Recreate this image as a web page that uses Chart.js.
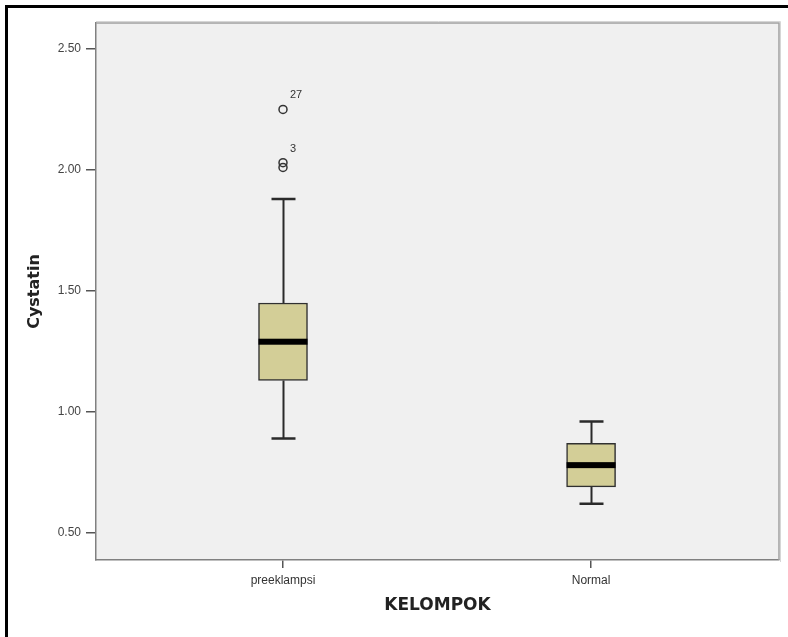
<!DOCTYPE html>
<html>
<head>
<meta charset="utf-8">
<title>Cystatin per kelompok</title>
<script src="https://cdn.jsdelivr.net/npm/chart.js@4/dist/chart.umd.min.js"></script>
<style>
  html, body { margin: 0; padding: 0; background: #ffffff; }
  #wrap { width: 788px; height: 637px; position: relative; }
</style>
</head>
<body>
<div id="wrap"><canvas id="c" width="788" height="637"></canvas></div>
<script>
// Group labels on the x axis
const groups = ['preeklampsi', 'Normal'];

// Five-number summaries per group
const whiskerLow  = [0.89, 0.62];
const q1          = [1.13, 0.69];
const median      = [1.29, 0.78];
const q3          = [1.45, 0.87];
const whiskerHigh = [1.88, 0.96];

// Outliers: group position (1-based), value and case id
const outlierGroup  = [1, 1, 1];
const outlierValues = [2.25, 2.03, 2.01];
const outlierIds    = ['27', '3', ''];

// Y axis tick values
const yTicks = [0.50, 1.00, 1.50, 2.00, 2.50];

const boxData = groups.map((g, i) => ({ x: i + 1, y: [q1[i], q3[i]] }));
const outlierData = outlierValues.map((v, i) => ({ x: outlierGroup[i], y: v, id: outlierIds[i] }));

// Page frame, plot background and plot border
const framePlugin = {
  id: 'frame',
  beforeDraw(chart) {
    const { ctx, chartArea: a } = chart;
    ctx.save();
    ctx.fillStyle = '#ffffff';
    ctx.fillRect(0, 0, chart.width, chart.height);
    ctx.fillStyle = '#000000';
    ctx.fillRect(5, 5, chart.width - 5, 3);
    ctx.fillRect(5, 5, 3, chart.height - 5);
    ctx.fillStyle = '#f0f0f0';
    ctx.fillRect(a.left, a.top, a.right - a.left, a.bottom - a.top);
    ctx.restore();
  },
  afterDraw(chart) {
    const { ctx, chartArea: a } = chart;
    ctx.save();
    // soft top and right edges
    ctx.strokeStyle = '#d6d6d6';
    ctx.lineWidth = 1;
    ctx.beginPath();
    ctx.moveTo(a.left, a.top - 1.5); ctx.lineTo(a.right + 1.5, a.top - 1.5);
    ctx.lineTo(a.right + 1.5, a.bottom + 2);
    ctx.stroke();
    ctx.strokeStyle = '#a0a0a0';
    ctx.lineWidth = 1.5;
    ctx.beginPath();
    ctx.moveTo(a.left, a.top); ctx.lineTo(a.right, a.top);
    ctx.lineTo(a.right, a.bottom);
    ctx.stroke();
    ctx.restore();
  }
};

// Whiskers, caps, medians and outlier ids, placed through the chart scales
const boxPlugin = {
  id: 'boxParts',
  beforeDatasetsDraw(chart) {
    const { ctx, scales: { x, y } } = chart;
    ctx.save();
    ctx.strokeStyle = '#2a2a2a';
    groups.forEach((g, i) => {
      const cx = Math.round(x.getPixelForValue(i + 1)) + 0.5;
      const capHalf = 12;
      const yLo = y.getPixelForValue(whiskerLow[i]);
      const yQ1 = y.getPixelForValue(q1[i]);
      const yQ3 = y.getPixelForValue(q3[i]);
      const yHi = y.getPixelForValue(whiskerHigh[i]);
      ctx.lineWidth = 2;
      ctx.beginPath();
      ctx.moveTo(cx, yQ1); ctx.lineTo(cx, yLo);
      ctx.moveTo(cx, yQ3); ctx.lineTo(cx, yHi);
      ctx.stroke();
      ctx.lineWidth = 2.5;
      ctx.beginPath();
      ctx.moveTo(cx - capHalf, yLo); ctx.lineTo(cx + capHalf, yLo);
      ctx.moveTo(cx - capHalf, yHi); ctx.lineTo(cx + capHalf, yHi);
      ctx.stroke();
    });
    ctx.restore();
  },
  afterDatasetsDraw(chart) {
    const { ctx, scales: { x, y } } = chart;
    const boxMeta = chart.getDatasetMeta(0);
    ctx.save();
    ctx.fillStyle = '#000000';
    groups.forEach((g, i) => {
      const bar = boxMeta.data[i];
      const half = bar.width / 2;
      const ym = y.getPixelForValue(median[i]);
      ctx.fillRect(bar.x - half, ym - 3, half * 2, 6);
    });
    ctx.fillStyle = '#333333';
    ctx.font = '11px "Liberation Sans", Arial, sans-serif';
    ctx.textAlign = 'left';
    ctx.textBaseline = 'middle';
    outlierData.forEach(p => {
      if (!p.id) return;
      ctx.fillText(p.id, x.getPixelForValue(p.x) + 7, y.getPixelForValue(p.y) - 14);
    });
    ctx.restore();
  }
};

new Chart(document.getElementById('c'), {
  type: 'bar',
  data: {
    datasets: [
      {
        type: 'bar',
        data: boxData,
        backgroundColor: '#d3ce97',
        borderColor: '#303030',
        borderWidth: 1.5,
        borderSkipped: false,
        barThickness: 49,
        grouped: false
      },
      {
        type: 'scatter',
        data: outlierData,
        pointStyle: 'circle',
        pointRadius: 4,
        pointBackgroundColor: 'rgba(0,0,0,0)',
        pointBorderColor: '#333333',
        pointBorderWidth: 1.5
      }
    ]
  },
  options: {
    responsive: false,
    animation: false,
    events: [],
    layout: { padding: { top: 23, right: 9, left: 0, bottom: 0 } },
    plugins: {
      legend: { display: false },
      tooltip: { enabled: false }
    },
    scales: {
      x: {
        type: 'linear',
        offset: false,
        min: 0.393,
        max: 2.61,
        afterFit(scale) { scale.height = 77; },
        afterBuildTicks(scale) { scale.ticks = groups.map((g, i) => ({ value: i + 1 })); },
        ticks: {
          callback: (v) => groups[Math.round(v) - 1],
          color: '#333333',
          font: { family: '"Liberation Sans", Arial, sans-serif', size: 12 },
          padding: 5,
          maxRotation: 0,
          autoSkip: false
        },
        grid: { offset: false, drawOnChartArea: false, drawTicks: true, tickLength: 8, color: '#555555', lineWidth: 1.5 },
        border: { display: true, color: '#808080', width: 1.5 },
        title: {
          display: true,
          text: 'KELOMPOK',
          color: '#222222',
          font: { family: '"DejaVu Sans", sans-serif', size: 17, weight: 'bold' },
          padding: { top: 0, bottom: 21 }
        }
      },
      y: {
        type: 'linear',
        min: 0.388,
        max: 2.607,
        afterFit(scale) { scale.width = 96; },
        afterBuildTicks(scale) { scale.ticks = yTicks.map(v => ({ value: v })); },
        ticks: {
          callback: (v) => Number(v).toFixed(2),
          color: '#444444',
          font: { family: '"Liberation Sans", Arial, sans-serif', size: 12 },
          padding: 5
        },
        grid: { drawOnChartArea: false, drawTicks: true, tickLength: 10, color: '#555555', lineWidth: 1.5 },
        border: { display: true, color: '#808080', width: 1.5 },
        title: {
          display: true,
          text: 'Cystatin',
          color: '#222222',
          font: { family: '"DejaVu Sans", sans-serif', size: 16, weight: 'bold' },
          padding: { top: 25, bottom: 0 }
        }
      }
    }
  },
  plugins: [framePlugin, boxPlugin]
});
</script>
</body>
</html>
